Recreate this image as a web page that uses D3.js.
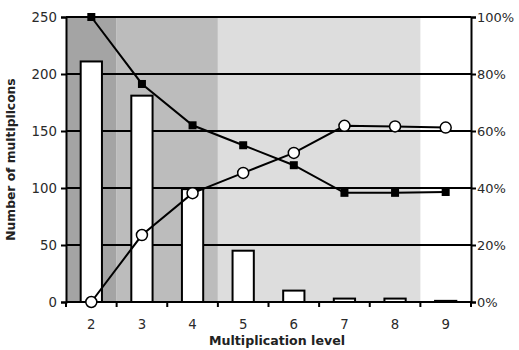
<!DOCTYPE html>
<html>
<head>
<meta charset="utf-8">
<script src="https://cdn.jsdelivr.net/npm/d3@7"></script>
<style>
  body { margin: 0; background: #fff; }
  text { font-family: "DejaVu Sans", Verdana, sans-serif; }
</style>
</head>
<body>
<div id="chart"></div>
<script>
// Data
const levels = [2, 3, 4, 5, 6, 7, 8, 9];
const multiplicons = [211, 181, 99, 45, 10, 3, 3, 1];
const squarePct = [100, 76.5, 62, 55, 48, 38.3, 38.3, 38.6];
const circlePct = [0, 23.5, 38.2, 45.3, 52.3, 61.8, 61.6, 61.2];
const leftTicks = [0, 50, 100, 150, 200, 250];
const rightTicks = [0, 20, 40, 60, 80, 100];
// shaded background zones: [first level, last level, colour]
const zones = [
    [2, 2, "#a4a4a4"],
    [3, 4, "#bcbcbc"],
    [5, 8, "#dddddd"]
];

const width = 519;
const height = 350;
const marginTop = 17;
const marginRight = 48;
const marginBottom = 48;
const marginLeft = 66;

const x = d3.scaleBand()
    .domain(levels)
    .range([marginLeft, width - marginRight])
    .paddingInner(0)
    .paddingOuter(0);

const y = d3.scaleLinear()
    .domain([0, 250])
    .range([height - marginBottom, marginTop]);

const y2 = d3.scaleLinear()
    .domain([0, 100])
    .range([height - marginBottom, marginTop]);

const svg = d3.select("#chart").append("svg")
    .attr("width", width)
    .attr("height", height)
    .attr("viewBox", [0, 0, width, height]);

// background zones
svg.append("g")
    .selectAll("rect")
    .data(zones)
    .join("rect")
    .attr("x", d => x(d[0]))
    .attr("y", marginTop)
    .attr("width", d => x(d[1]) + x.bandwidth() - x(d[0]))
    .attr("height", y(0) - marginTop)
    .attr("fill", d => d[2]);

// horizontal gridlines
svg.append("g")
    .selectAll("line")
    .data(leftTicks.filter(t => t > 0))
    .join("line")
    .attr("x1", marginLeft)
    .attr("x2", width - marginRight)
    .attr("y1", d => y(d))
    .attr("y2", d => y(d))
    .attr("stroke", "#000")
    .attr("stroke-width", 2);

// bars
const barW = x.bandwidth() * 0.42;
svg.append("g")
    .selectAll("rect")
    .data(levels)
    .join("rect")
    .attr("x", (d) => x(d) + (x.bandwidth() - barW) / 2)
    .attr("y", (d, i) => y(multiplicons[i]))
    .attr("width", barW)
    .attr("height", (d, i) => y(0) - y(multiplicons[i]))
    .attr("fill", "#fff")
    .attr("stroke", "#000")
    .attr("stroke-width", 2);

// left axis
svg.append("g")
    .attr("transform", `translate(${marginLeft},0)`)
    .call(d3.axisLeft(y).tickValues(leftTicks).tickSize(5).tickPadding(4))
    .call(g => g.select(".domain").attr("stroke-width", 2))
    .call(g => g.selectAll(".tick line").attr("stroke-width", 2))
    .call(g => g.selectAll("text").attr("font-size", 13.3).attr("fill", "#2a2a2a"));

// right axis
svg.append("g")
    .attr("transform", `translate(${width - marginRight},0)`)
    .call(d3.axisRight(y2).tickValues(rightTicks).tickFormat(d => d + "%").tickSize(5).tickPadding(1))
    .call(g => g.select(".domain").attr("stroke-width", 2))
    .call(g => g.selectAll(".tick line").attr("stroke-width", 2))
    .call(g => g.selectAll("text").attr("font-size", 13).attr("fill", "#2a2a2a"));

// bottom axis: ticks sit at category boundaries
const xAxis = svg.append("g")
    .attr("transform", `translate(0,${y(0)})`);
xAxis.append("line")
    .attr("x1", marginLeft)
    .attr("x2", width - marginRight)
    .attr("stroke", "#000")
    .attr("stroke-width", 2);
xAxis.selectAll(".bt")
    .data(levels)
    .join("line")
    .attr("class", "bt")
    .attr("x1", d => x(d) + x.bandwidth())
    .attr("x2", d => x(d) + x.bandwidth())
    .attr("y1", 0)
    .attr("y2", 5)
    .attr("stroke", "#000")
    .attr("stroke-width", 2);
xAxis.append("line")
    .attr("x1", marginLeft).attr("x2", marginLeft)
    .attr("y1", 0).attr("y2", 5)
    .attr("stroke", "#000").attr("stroke-width", 2);
xAxis.selectAll("text")
    .data(levels)
    .join("text")
    .attr("x", d => x(d) + x.bandwidth() / 2)
    .attr("y", 27)
    .attr("text-anchor", "middle")
    .attr("font-size", 13.3)
    .attr("fill", "#2a2a2a")
    .text(d => d);

// lines
const lineGen = d3.line();
const sqPts = levels.map((d, i) => [x(d) + x.bandwidth() / 2, y2(squarePct[i])]);
const ciPts = levels.map((d, i) => [x(d) + x.bandwidth() / 2, y2(circlePct[i])]);

svg.append("path")
    .attr("d", lineGen(sqPts))
    .attr("fill", "none")
    .attr("stroke", "#000")
    .attr("stroke-width", 2);
svg.append("path")
    .attr("d", lineGen(ciPts))
    .attr("fill", "none")
    .attr("stroke", "#000")
    .attr("stroke-width", 2);

svg.append("g")
    .selectAll("rect")
    .data(sqPts)
    .join("rect")
    .attr("x", d => d[0] - 4)
    .attr("y", d => d[1] - 4)
    .attr("width", 8)
    .attr("height", 8)
    .attr("fill", "#000");

svg.append("g")
    .selectAll("circle")
    .data(ciPts)
    .join("circle")
    .attr("cx", d => d[0])
    .attr("cy", d => d[1])
    .attr("r", 5.5)
    .attr("fill", "#fff")
    .attr("stroke", "#000")
    .attr("stroke-width", 1.5);

// axis titles
svg.append("text")
    .attr("x", 277)
    .attr("y", 345)
    .attr("text-anchor", "middle")
    .attr("font-size", 12.6)
    .attr("font-weight", "bold")
    .attr("fill", "#222")
    .text("Multiplication level");

svg.append("text")
    .attr("transform", `translate(15,${(marginTop + y(0)) / 2}) rotate(-90)`)
    .attr("text-anchor", "middle")
    .attr("font-size", 12.3)
    .attr("font-weight", "bold")
    .attr("fill", "#222")
    .text("Number of multiplicons");
</script>
</body>
</html>
